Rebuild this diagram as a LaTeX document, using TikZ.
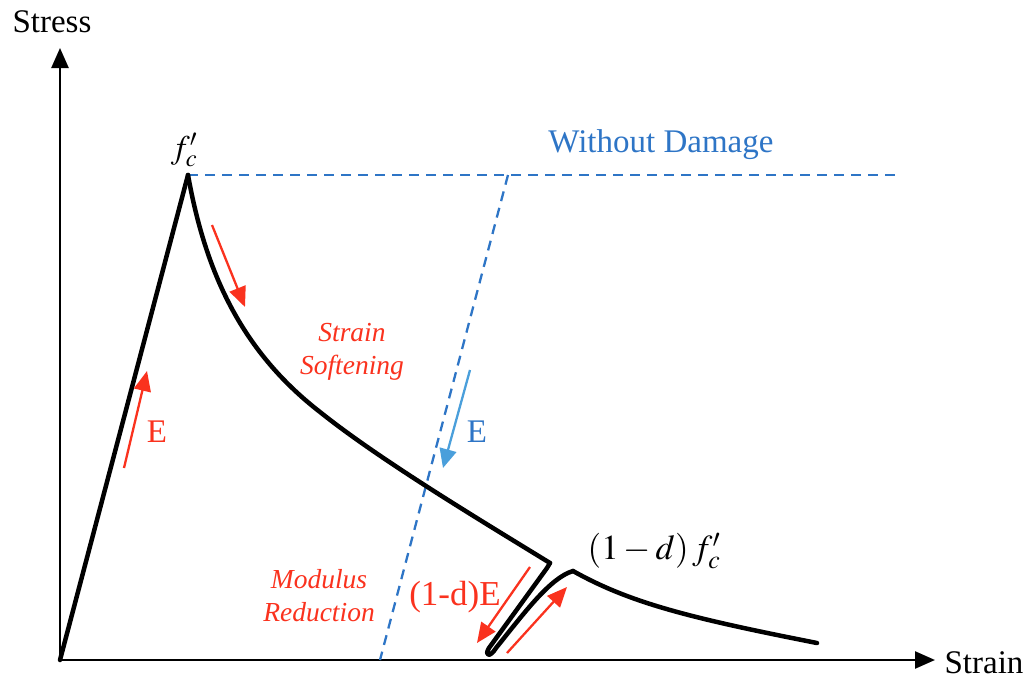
\documentclass[tikz,border=0pt]{standalone}
\usepackage{mathptmx}
\usepackage[no-math]{fontspec}
\setmainfont{Liberation Serif}
\usetikzlibrary{arrows.meta}
\definecolor{myred}{RGB}{250,50,30}
\definecolor{myblue}{RGB}{46,117,198}
\definecolor{lightblue}{RGB}{74,159,219}
\tikzset{
  axis/.style={line width=2.5pt,-{Triangle[length=20pt,width=17pt]}},
  curve/.style={line width=4.5pt,line join=round,line cap=round},
  bluedash/.style={myblue,line width=2.3pt,dash pattern=on 10pt off 7pt},
  redarrow/.style={myred,line width=2.3pt,-{Triangle[length=20pt,width=17pt]}},
  bluearrow/.style={lightblue,line width=2.3pt,-{Triangle[length=19pt,width=17pt]}},
  lbl/.style={font=\fontsize{33}{36}\selectfont,inner sep=0pt},
  ital/.style={font=\fontsize{27.5}{33}\selectfont\itshape,myred,inner sep=0pt,align=center},
}
\begin{document}
\begin{tikzpicture}[x=1pt,y=-1pt]
\useasboundingbox (0,0) rectangle (1029,680);
% coordinates
\coordinate (O) at (60,660);
\coordinate (ytip) at (60,48);
\coordinate (xtip) at (935,660);
\coordinate (peak) at (188,175);
\coordinate (mid) at (320,412);
\coordinate (unl) at (550,563);
\coordinate (repk) at (573,571);
\coordinate (tail) at (817,643);
\coordinate (hz) at (900,175);
\coordinate (dtop) at (508,175);
\coordinate (dbot) at (380,660);
% axes
\draw[axis] (O) -- (ytip);
\draw[axis] (O) -- (xtip);
% dashed "without damage"
\draw[bluedash] (peak) -- (hz);
\draw[bluedash] (dtop) -- (dbot);
% main curve
\draw[curve] (O) -- (peak);
\draw[curve] (peak) .. controls (205,270) and (240,350) .. (mid)
  .. controls (380,460) and (480,520) .. (unl);
\draw[curve] (unl) -- (547,568) -- (489,648) .. controls (484,656) and (490,658) .. (496,648)
  .. controls (525,612) and (550,578) .. (repk);
\draw[curve] (repk) .. controls (630,603) and (690,618) .. (tail);
% arrows
\coordinate (a1s) at (124,468); \coordinate (a1e) at (147,371);
\coordinate (a2s) at (212,225); \coordinate (a2e) at (245,307);
\coordinate (a3s) at (470,370); \coordinate (a3e) at (443,468);
\coordinate (a4s) at (530,567); \coordinate (a4e) at (477,643);
\coordinate (a5s) at (507,653); \coordinate (a5e) at (567,587);
\draw[redarrow] (a1s) -- (a1e);
\draw[redarrow] (a2s) -- (a2e);
\draw[bluearrow] (a3s) -- (a3e);
\draw[redarrow] (a4s) -- (a4e);
\draw[redarrow] (a5s) -- (a5e);
% labels
\node[lbl] (stress) at (52,22) {Stress};
\node[lbl] (strain) at (984,663) {Strain};
\node[lbl] (fc) at (184,150) {$f_c'$};
\node[lbl,text=myblue] (wd) at (661,145) {Without Damage};
\node[ital] (ss) at (352,352) {Strain\\Softening};
\node[ital] (mr) at (319,596) {Modulus\\Reduction};
\node[lbl,text=myred] (e1) at (157,432) {E};
\node[lbl,text=myblue] (e2) at (477,432) {E};
\node[lbl,text=myred,font=\fontsize{35}{38}\selectfont] (dE) at (455,597) {(1-d)E};
\node[lbl,font=\fontsize{35}{38}\selectfont] (dfc) at (654,551) {$(1-d)\,f_c'$};
\end{tikzpicture}
\end{document}
